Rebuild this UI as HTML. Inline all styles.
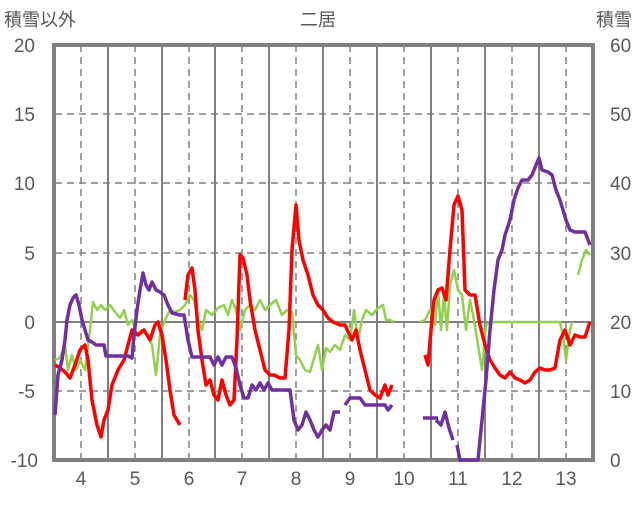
<!DOCTYPE html>
<html><head><meta charset="utf-8"><style>
body{margin:0;background:#fff}
text{font-family:"Liberation Sans","Noto Sans CJK JP",sans-serif;fill:#595959}
</style></head><body>
<svg width="636" height="501" xmlns="http://www.w3.org/2000/svg">
<g stroke="#808080" stroke-width="1.5" stroke-dasharray="7,5" fill="none">
<path d="M55 114H593M55 183H593M55 253H593M55 391H593"/>
<path d="M81 45V460M135 45V460M189 45V460M242 45V460M296 45V460M350 45V460M404 45V460M458 45V460M512 45V460M566 45V460"/>
</g>
<g stroke="#808080" stroke-width="2" fill="none">
<path d="M108 45V460M162 45V460M215 45V460M269 45V460M323 45V460M377 45V460M431 45V460M485 45V460M539 45V460"/>
<path d="M55 322H593"/>
</g>
<rect x="54" y="45" width="539" height="415" fill="none" stroke="#808080" stroke-width="4"/>
<g fill="none" stroke-width="3.5" stroke-linejoin="round">
<polyline stroke="#92D050" stroke-width="2.5" points="55,360 60,358 65,345 68,370 72,355 76,370 80,360 85,370 90,330 93,302 97,310 101,305 105,310 110,305 115,312 120,318 124,310 128,325 132,320 137,335 142,330 148,335 152,345 156,375 160,335 165,320 170,310 175,312 180,310 185,305 190,295 194,300 198,320 202,330 206,310 212,315 218,308 224,305 228,315 232,300 236,310 240,330 245,310 250,305 255,310 260,300 265,310 270,305 276,300 282,315 287,310 292,312 296,355 300,360 305,370 310,372 315,355 318,345 322,370 326,348 330,352 335,345 340,350 345,335 350,340 354,310 358,340 362,320 366,310 372,315 378,308 383,305 386,320 390,320 394,322"/>
<polyline stroke="#92D050" stroke-width="2.5" points="420,322 425,320 430,310 435,325 438,290 441,330 444,295 447,330 450,285 454,270 458,290 462,295 466,330 470,300 474,320 478,345 482,370 486,325 490,322 560,322 563,335 566,360 570,330 572,322"/>
<polyline stroke="#92D050" stroke-width="2.5" points="578,275 582,260 586,250 590,255"/>
<polyline stroke="#FF0000" points="55,365 60,368 65,372 70,378 75,365 80,350 85,345 88,360 92,400 97,425 101,437 104,420 108,410 112,385 118,370 124,360 128,345 132,330 138,335 144,330 150,340 155,325 158,322 162,335 166,360 170,390 174,415 180,425"/>
<polyline stroke="#FF0000" points="185,300 188,275 192,268 195,290 198,330 202,360 206,385 210,380 214,395 218,400 222,380 226,395 230,405 234,400 237,340 240,255 243,258 247,275 250,300 255,330 260,350 265,370 270,375 274,375 280,378 285,378 289,330 292,250 296,205 299,240 303,260 308,275 313,295 318,305 323,310 328,318 333,322 340,325 345,325 352,340 356,330 360,350 365,370 370,390 375,395 380,398 385,385 388,395 392,385"/>
<polyline stroke="#FF0000" points="425,355 428,365 431,330 434,300 438,290 442,288 446,300 450,250 454,205 458,196 462,210 465,290 470,295 475,295 480,325 485,345 490,360 495,368 500,375 505,378 510,372 515,378 520,380 525,383 530,380 535,372 540,368 545,370 550,370 555,368 560,340 565,330 570,345 575,335 580,337 585,337 590,322"/>
<polyline stroke="#7030A0" points="55,415 58,375 62,360 65,340 67,320 70,305 73,298 76,295 79,305 82,320 85,330 88,340 92,342 96,345 100,345 104,345 106,356 112,356 120,356 128,356 132,358 134,335 137,310 140,290 143,273 146,285 149,290 152,282 156,290 160,292 164,295 168,305 172,313 180,315 184,315 188,340 192,357 200,357 210,357 214,365 218,357 222,365 226,357 232,357 236,368 240,385 244,398 248,398 252,385 256,390 260,383 264,390 268,383 272,390 280,390 290,390 294,420 298,430 302,425 306,412 310,420 314,430 318,437 322,430 326,425 330,430 334,412 340,412"/>
<polyline stroke="#7030A0" points="345,405 350,398 360,398 365,405 370,405 380,405 385,405 388,410 392,405"/>
<polyline stroke="#7030A0" points="423,418 438,418"/>
<polyline stroke="#7030A0" points="436,420 441,425 445,412 449,428 453,440"/>
<polyline stroke="#7030A0" points="457,445 460,460 478,460 482,420 486,380 490,330 494,290 498,260 502,250 505,235 510,220 514,200 518,188 522,180 528,180 532,175 536,165 539,158 542,170 548,172 552,175 556,190 560,200 563,210 566,220 570,230 575,232 580,232 585,232 590,245"/>
</g>
<g font-size="19" text-anchor="end">
<text x="35" y="52">20</text><text x="35" y="121">15</text><text x="35" y="190">10</text><text x="35" y="260">5</text><text x="35" y="329">0</text><text x="35" y="398">-5</text><text x="38" y="467">-10</text>
</g>
<g font-size="19" text-anchor="start">
<text x="610" y="52">60</text><text x="610" y="121">50</text><text x="610" y="190">40</text><text x="610" y="260">30</text><text x="610" y="329">20</text><text x="610" y="398">10</text><text x="610" y="467">0</text>
</g>
<g font-size="19" text-anchor="middle">
<text x="81" y="485">4</text><text x="135" y="485">5</text><text x="189" y="485">6</text><text x="242" y="485">7</text><text x="296" y="485">8</text><text x="350" y="485">9</text><text x="404" y="485">10</text><text x="458" y="485">11</text><text x="512" y="485">12</text><text x="566" y="485">13</text>
</g>
<text x="4" y="26" font-size="18">積雪以外</text>
<text x="318" y="26" font-size="18" text-anchor="middle">二居</text>
<text x="632" y="26" font-size="18" text-anchor="end">積雪</text>
</svg>
</body></html>
